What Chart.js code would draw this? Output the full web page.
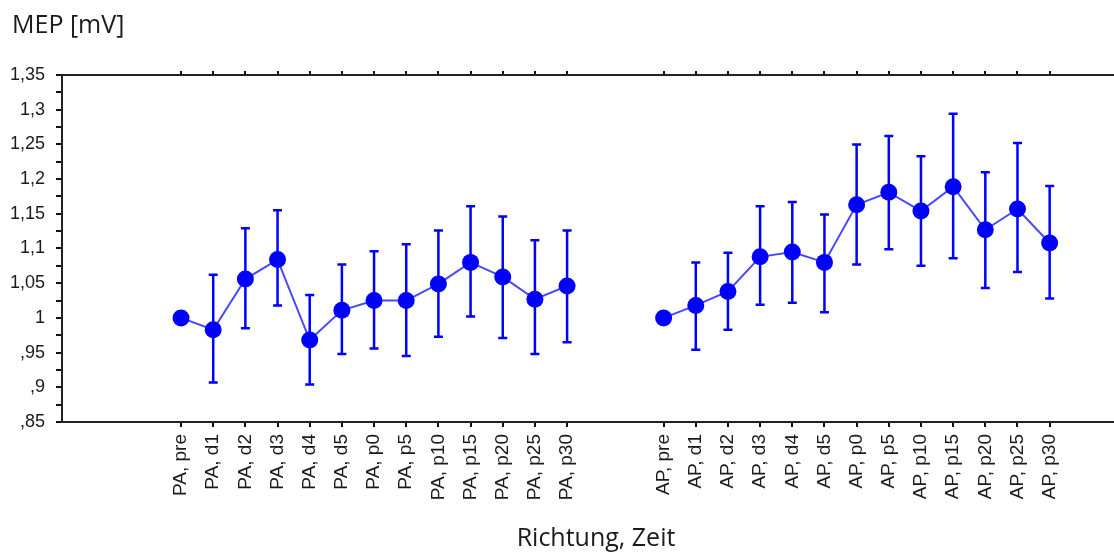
<!DOCTYPE html>
<html>
<head>
<meta charset="utf-8">
<script src="https://cdn.jsdelivr.net/npm/chart.js@4.4.1/dist/chart.umd.min.js"></script>
<style>
  html, body { margin: 0; padding: 0; background: #fff; }
  #wrap { width: 1114px; height: 552px; }
</style>
</head>
<body>
<div id="wrap"><canvas id="chart" width="1114" height="552"></canvas></div>
<script>
// categories along the x axis, two empty slots make the gap between PA and AP
const categories = [
    'PA, pre', 'PA, d1', 'PA, d2', 'PA, d3', 'PA, d4', 'PA, d5', 'PA, p0',
    'PA, p5', 'PA, p10', 'PA, p15', 'PA, p20', 'PA, p25', 'PA, p30',
    '', '',
    'AP, pre', 'AP, d1', 'AP, d2', 'AP, d3', 'AP, d4', 'AP, d5', 'AP, p0',
    'AP, p5', 'AP, p10', 'AP, p15', 'AP, p20', 'AP, p25', 'AP, p30'
];

// mean MEP values
const meanValues = [
    1.000, 0.983, 1.056, 1.084, 0.968, 1.011, 1.025,
    1.025, 1.049, 1.080, 1.059, 1.027, 1.046,
    null, null,
    1.000, 1.018, 1.038, 1.088, 1.095, 1.080, 1.163,
    1.181, 1.154, 1.189, 1.127, 1.157, 1.108
];

// error bar upper ends
const upperValues = [
    null, 1.062, 1.129, 1.155, 1.033, 1.077, 1.096,
    1.106, 1.126, 1.161, 1.146, 1.112, 1.126,
    null, null,
    null, 1.080, 1.094, 1.161, 1.167, 1.149, 1.250,
    1.262, 1.233, 1.294, 1.210, 1.252, 1.190
];

// error bar lower ends
const lowerValues = [
    null, 0.907, 0.985, 1.018, 0.904, 0.948, 0.956,
    0.945, 0.973, 1.002, 0.971, 0.948, 0.965,
    null, null,
    null, 0.954, 0.983, 1.019, 1.022, 1.008, 1.077,
    1.099, 1.075, 1.086, 1.043, 1.066, 1.028
];

const yMin = 0.85;
const yMax = 1.35;
const yStep = 0.025;

const blue = '#0000ff';
const yTickFont = { family: 'Liberation Sans', size: 18 };
const xTickFont = { family: 'Liberation Sans', size: 19 };
const titleFont = '25px "Open Sans", sans-serif';

function formatGerman(v) {
    // 0.85 -> ",85", 1.1 -> "1,1", 1 -> "1"
    let s = String(Math.round(v * 1000) / 1000).replace('.', ',');
    if (s.startsWith('0,')) s = s.substring(1);
    return s;
}

function labelledPositions() {
    const pos = [];
    categories.forEach((c, i) => { if (c !== '') pos.push({ value: i }); });
    return pos;
}

// Error bars drawn under the markers
const errorBarPlugin = {
    id: 'errorBars',
    beforeDatasetsDraw(chart) {
        const { ctx, scales } = chart;
        ctx.save();
        ctx.strokeStyle = blue;
        ctx.lineWidth = 2.5;
        meanValues.forEach((m, i) => {
            if (upperValues[i] == null || lowerValues[i] == null) return;
            const x = scales.x.getPixelForValue(i);
            const yTop = scales.y.getPixelForValue(upperValues[i]);
            const yBot = scales.y.getPixelForValue(lowerValues[i]);
            ctx.beginPath();
            ctx.moveTo(x, yTop);
            ctx.lineTo(x, yBot);
            ctx.moveTo(x - 4.5, yTop);
            ctx.lineTo(x + 4.5, yTop);
            ctx.moveTo(x - 4.5, yBot);
            ctx.lineTo(x + 4.5, yBot);
            ctx.stroke();
        });
        ctx.restore();
    }
};

// Axis captions
const captionPlugin = {
    id: 'captions',
    afterDraw(chart) {
        const { ctx } = chart;
        ctx.save();
        ctx.fillStyle = '#1b1b1b';
        ctx.font = titleFont;
        ctx.textBaseline = 'alphabetic';
        ctx.textAlign = 'left';
        ctx.fillText('MEP [mV]', 12, 33);
        ctx.textAlign = 'center';
        ctx.fillText('Richtung, Zeit', 596, 546);
        ctx.restore();
    }
};

function noSidePadding(scale) {
    scale.paddingLeft = 0;
    scale.paddingRight = 0;
}

new Chart(document.getElementById('chart'), {
    type: 'line',
    data: {
        datasets: [{
            data: meanValues.map((v, i) => ({ x: i, y: v })),
            borderColor: 'rgba(40, 40, 255, 0.85)',
            borderWidth: 2,
            pointRadius: 8.5,
            pointHoverRadius: 8.5,
            pointBackgroundColor: blue,
            pointBorderWidth: 0,
            spanGaps: false,
            tension: 0,
            clip: false,
        }]
    },
    options: {
        responsive: false,
        animation: false,
        events: [],
        layout: { autoPadding: false, padding: { top: 71, right: 0, bottom: 0, left: 0 } },
        plugins: {
            legend: { display: false },
            tooltip: { enabled: false },
        },
        scales: {
            x: {
                type: 'linear',
                position: 'bottom',
                min: -3.7,
                max: 29,
                afterBuildTicks: scale => { scale.ticks = labelledPositions(); },
                afterFit: scale => { scale.height = 130; noSidePadding(scale); },
                ticks: {
                    autoSkip: false,
                    minRotation: 90,
                    maxRotation: 90,
                    padding: 7,
                    color: '#1b1b1b',
                    font: xTickFont,
                    callback: value => categories[value] || '',
                },
                grid: {
                    drawOnChartArea: false,
                    drawTicks: true,
                    tickLength: 5,
                    color: '#111',
                    lineWidth: 2,
                },
                border: { display: true, color: '#222', width: 2 },
            },
            x2: {
                type: 'linear',
                position: 'top',
                min: -3.7,
                max: 29,
                afterBuildTicks: scale => { scale.ticks = labelledPositions(); },
                afterFit: scale => { scale.height = 4; noSidePadding(scale); },
                ticks: { display: false },
                grid: {
                    drawOnChartArea: false,
                    drawTicks: true,
                    tickLength: 4,
                    color: '#111',
                    lineWidth: 2,
                },
                border: { display: true, color: '#222', width: 2 },
            },
            y: {
                type: 'linear',
                min: yMin,
                max: yMax,
                afterFit: scale => { scale.width = 62; },
                ticks: {
                    stepSize: yStep,
                    autoSkip: false,
                    padding: 11,
                    color: '#1b1b1b',
                    font: yTickFont,
                    callback: value => {
                        const k = value / 0.05;
                        return Math.abs(k - Math.round(k)) < 1e-6 ? formatGerman(value) : '';
                    },
                },
                grid: {
                    drawOnChartArea: false,
                    drawTicks: true,
                    tickLength: 6,
                    color: '#111',
                    lineWidth: 2,
                },
                border: { display: true, color: '#222', width: 2 },
            },
        },
    },
    plugins: [errorBarPlugin, captionPlugin],
});
</script>
</body>
</html>
